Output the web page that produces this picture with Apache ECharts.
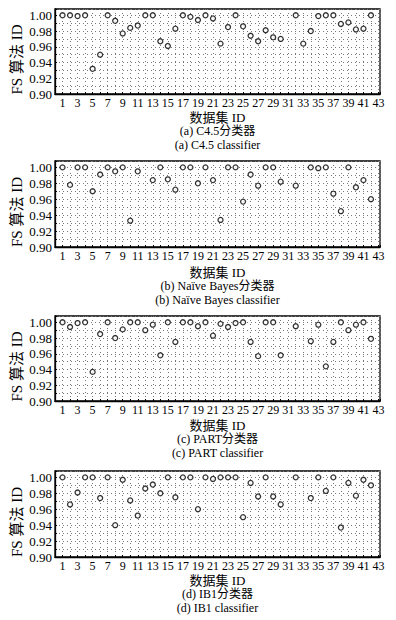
<!DOCTYPE html>
<html><head><meta charset="utf-8">
<script src="https://cdn.jsdelivr.net/npm/echarts/dist/echarts.min.js"></script>
<style>html,body{margin:0;padding:0;background:#fff}#c{width:396px;height:620px}</style>
</head><body><div id="c"></div>
<script>
const datasetIds = [1,2,3,4,5,6,7,8,9,10,11,12,13,14,15,16,17,18,19,20,21,22,23,24,25,26,27,28,29,30,31,32,33,34,35,36,37,38,39,40,41,42,43];
const xTickLabels = [1,3,5,7,9,11,13,15,17,19,21,23,25,27,29,31,33,35,37,39,41,43];
const yTickLabels = ['0.90','0.92','0.94','0.96','0.98','1.00'];
const c45  = [1.00,1.00,0.999,1.00,0.932,0.950,1.00,0.993,0.977,0.984,0.987,1.00,1.00,0.967,0.961,0.983,1.00,0.998,0.994,1.00,0.996,0.964,0.985,1.00,0.986,0.974,0.967,0.981,0.972,0.970,null,1.00,0.964,0.980,0.999,1.00,1.00,0.989,0.991,0.982,0.983,1.00,null];
const nb   = [1.00,0.978,1.00,1.00,0.970,0.991,1.00,0.995,1.00,0.933,0.995,null,0.984,1.00,0.985,0.972,1.00,1.00,0.980,1.00,0.984,0.934,1.00,1.00,0.957,0.991,0.977,1.00,1.00,0.982,null,0.977,null,1.00,0.999,1.00,0.967,0.945,1.00,0.975,0.984,0.960,null];
const part = [1.00,0.994,0.999,1.00,0.937,0.985,1.00,0.980,0.991,1.00,1.00,0.990,0.997,0.958,1.00,0.975,1.00,1.00,0.995,1.00,0.983,0.998,0.994,0.999,1.00,0.975,0.957,1.00,1.00,0.958,null,0.995,null,0.976,0.997,0.944,0.975,1.00,0.990,0.997,1.00,0.979,null];
const ib1  = [1.00,0.966,0.981,1.00,1.00,0.974,1.00,0.940,0.997,0.971,0.952,0.986,0.991,0.980,1.00,0.975,1.00,1.00,0.960,1.00,0.998,1.00,1.00,1.00,0.950,0.993,0.976,1.00,0.976,0.966,null,1.00,null,0.974,1.00,0.983,1.00,0.937,0.993,0.977,0.997,0.990,null];
const seriesList = [c45, nb, part, ib1];
const yTitle = 'FS 算法 ID';
const xTitle = '数据集 ID';
const captionsCN = ['(a) C4.5分类器','(b) Naïve Bayes分类器','(c) PART分类器','(d) IB1分类器'];
const captionsEN = ['(a) C4.5 classifier','(b) Naïve Bayes classifier','(c) PART classifier','(d) IB1 classifier'];

const FONT = '"Liberation Serif","Times New Roman","Noto Sans CJK SC",serif';
const tops = [9,161,316,471];
const heights = [85,86,85,86];
const nameOff = [23,25,24,23];
const LEFT = 55, WIDTH = 325, CX = LEFT + WIDTH/2;

const chart = echarts.init(document.getElementById('c'), null, {renderer:'svg'});
const grids=[], xAxes=[], yAxes=[], series=[], graphics=[];
const dotted = {show:true, lineStyle:{color:'#777', width:1, type:[1,3]}};
seriesList.forEach((vals,i)=>{
  grids.push({left:LEFT, width:WIDTH, top:tops[i], height:heights[i], show:true, borderColor:'#000', borderWidth:1.3, backgroundColor:'transparent'});
  xAxes.push({gridIndex:i, type:'value', min:0, max:43.2, interval:1,
    axisLine:{show:true, onZero:false, lineStyle:{color:'#000', width:1.3}},
    axisTick:{show:true, inside:true, length:2, lineStyle:{color:'#000'}},
    axisLabel:{margin:3, fontSize:12, color:'#000', fontFamily:FONT,
      formatter:v=>xTickLabels.includes(v)?String(v):''},
    splitLine:dotted});
  yAxes.push({gridIndex:i, type:'value', min:0.9, max:1.008, interval:0.01,
    axisLine:{show:true, onZero:false, lineStyle:{color:'#000', width:1.3}},
    axisTick:{show:true, inside:true, length:2, lineStyle:{color:'#000'}},
    axisLabel:{margin:3, fontSize:13, color:'#000', fontFamily:FONT,
      formatter:v=>{const s=(+v).toFixed(2); return (Math.abs(v-(+s))<1e-6 && yTickLabels.includes(s))?s:'';}},
    splitLine:dotted});
  series.push({type:'scatter', xAxisIndex:i, yAxisIndex:i, symbol:'circle', symbolSize:5,
    itemStyle:{color:'#fff', borderColor:'#000', borderWidth:1.3}, silent:true,
    data: datasetIds.map((id,k)=>vals[k]==null?null:[id, vals[k]]).filter(d=>d)});
  const bottom = tops[i]+heights[i];
  graphics.push({type:'text', x:17, y:tops[i]+heights[i]/2+8, rotation:Math.PI/2,
    style:{text:yTitle, fontSize:15, fontFamily:FONT, fill:'#000', textAlign:'center', textVerticalAlign:'middle', align:'center', verticalAlign:'middle'}});
  graphics.push({type:'text', x:CX, y:bottom+nameOff[i],
    style:{text:xTitle, fontSize:13, fontFamily:FONT, fill:'#000', textAlign:'center', textVerticalAlign:'middle', align:'center', verticalAlign:'middle'}});
  graphics.push({type:'text', x:CX, y:bottom+nameOff[i]+14,
    style:{text:captionsCN[i], fontSize:12, fontFamily:FONT, fill:'#000', textAlign:'center', textVerticalAlign:'middle', align:'center', verticalAlign:'middle'}});
  graphics.push({type:'text', x:CX, y:bottom+nameOff[i]+28,
    style:{text:captionsEN[i], fontSize:12, fontFamily:FONT, fill:'#000', textAlign:'center', textVerticalAlign:'middle', align:'center', verticalAlign:'middle'}});
});
chart.setOption({animation:false, backgroundColor:'#fff', grid:grids, xAxis:xAxes, yAxis:yAxes, series:series, graphic:graphics});
</script></body></html>
